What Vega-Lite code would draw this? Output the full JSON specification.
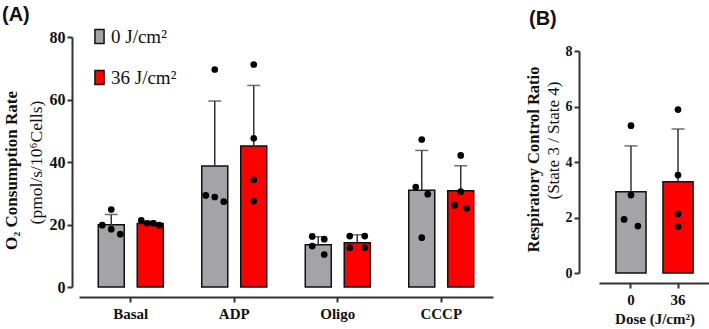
{
  "$schema": "https://vega.github.io/schema/vega-lite/v6.json",
  "padding": {"left": 2, "top": 5, "right": 1, "bottom": 1},
  "bounds": "flush",
  "center": true,
  "spacing": 106,
  "resolve": {"scale": {"color": "independent"}},
  "config": {
    "view": {"stroke": null},
    "axis": {
      "domainColor": "#333333", "domainWidth": 2,
      "tickColor": "#333333", "tickWidth": 2, "tickSize": 5,
      "labelFont": "Liberation Serif", "labelFontWeight": "bold", "labelColor": "#111111",
      "titleFont": "Liberation Serif", "titleColor": "#111111", "grid": false
    },
    "title": {"font": "Liberation Sans", "fontWeight": "bold", "fontSize": 20, "color": "#111111"}
  },
  "datasets": {
    "aSummary": [
      {"cat": "Basal", "dose": "0", "mean": 19.9, "upper": 23.2},
      {"cat": "Basal", "dose": "36", "mean": 20.3, "upper": 21.0},
      {"cat": "ADP", "dose": "0", "mean": 38.7, "upper": 59.5},
      {"cat": "ADP", "dose": "36", "mean": 45.1, "upper": 64.5},
      {"cat": "Oligo", "dose": "0", "mean": 13.5, "upper": 16.1},
      {"cat": "Oligo", "dose": "36", "mean": 14.2, "upper": 16.7},
      {"cat": "CCCP", "dose": "0", "mean": 31.0, "upper": 43.7},
      {"cat": "CCCP", "dose": "36", "mean": 30.8, "upper": 38.8}
    ],
    "aPoints": [
      {"cat": "Basal", "dose": "0", "value": 24.8, "j": 0},
      {"cat": "Basal", "dose": "0", "value": 19.8, "j": -3},
      {"cat": "Basal", "dose": "0", "value": 18.5, "j": 0},
      {"cat": "Basal", "dose": "0", "value": 16.9, "j": 3},
      {"cat": "Basal", "dose": "36", "value": 21.3, "j": -3},
      {"cat": "Basal", "dose": "36", "value": 20.4, "j": -1},
      {"cat": "Basal", "dose": "36", "value": 20.4, "j": 1},
      {"cat": "Basal", "dose": "36", "value": 19.8, "j": 3},
      {"cat": "ADP", "dose": "0", "value": 69.6, "j": 0},
      {"cat": "ADP", "dose": "0", "value": 29.3, "j": -3},
      {"cat": "ADP", "dose": "0", "value": 28.8, "j": 0},
      {"cat": "ADP", "dose": "0", "value": 27.3, "j": 3},
      {"cat": "ADP", "dose": "36", "value": 71.2, "j": 0},
      {"cat": "ADP", "dose": "36", "value": 47.6, "j": 0},
      {"cat": "ADP", "dose": "36", "value": 34.3, "j": 0},
      {"cat": "ADP", "dose": "36", "value": 27.5, "j": 0},
      {"cat": "Oligo", "dose": "0", "value": 16.2, "j": -2},
      {"cat": "Oligo", "dose": "0", "value": 15.3, "j": 2},
      {"cat": "Oligo", "dose": "0", "value": 13.1, "j": -2},
      {"cat": "Oligo", "dose": "0", "value": 10.4, "j": 2},
      {"cat": "Oligo", "dose": "36", "value": 16.3, "j": -2.5},
      {"cat": "Oligo", "dose": "36", "value": 16.3, "j": 2.5},
      {"cat": "Oligo", "dose": "36", "value": 12.6, "j": -2.5},
      {"cat": "Oligo", "dose": "36", "value": 12.6, "j": 2.5},
      {"cat": "CCCP", "dose": "0", "value": 47.2, "j": 0},
      {"cat": "CCCP", "dose": "0", "value": 32.0, "j": -2},
      {"cat": "CCCP", "dose": "0", "value": 29.7, "j": 2},
      {"cat": "CCCP", "dose": "0", "value": 15.8, "j": 0},
      {"cat": "CCCP", "dose": "36", "value": 42.1, "j": 0},
      {"cat": "CCCP", "dose": "36", "value": 30.5, "j": 0},
      {"cat": "CCCP", "dose": "36", "value": 26.2, "j": -2},
      {"cat": "CCCP", "dose": "36", "value": 25.2, "j": 2}
    ],
    "bSummary": [
      {"dose": "0", "mean": 2.93, "upper": 4.58},
      {"dose": "36", "mean": 3.29, "upper": 5.19}
    ],
    "bPoints": [
      {"dose": "0", "value": 5.31, "j": 0},
      {"dose": "0", "value": 2.81, "j": 0},
      {"dose": "0", "value": 1.93, "j": -2.3},
      {"dose": "0", "value": 1.69, "j": 2.3},
      {"dose": "36", "value": 5.89, "j": 0},
      {"dose": "36", "value": 3.53, "j": 0},
      {"dose": "36", "value": 2.13, "j": 0},
      {"dose": "36", "value": 1.67, "j": 0}
    ]
  },
  "hconcat": [
    {
      "width": 414,
      "height": 250,
      "title": {"text": "(A)", "anchor": "start", "frame": "group", "dx": -77, "offset": 2},
      "resolve": {"axis": {"y": "independent"}, "scale": {"xOffset": "independent"}},
      "encoding": {
        "x": {
          "field": "cat", "type": "nominal", "sort": ["Basal", "ADP", "Oligo", "CCCP"],
          "scale": {"paddingInner": 0, "paddingOuter": 0},
          "axis": {"title": null, "labelAngle": 0, "labelFontSize": 15, "labelPadding": 4, "offset": 10}
        },
        "xOffset": {
          "field": "dose", "type": "nominal", "sort": ["0", "36"],
          "scale": {"paddingInner": 0.333, "paddingOuter": 0.494}
        }
      },
      "layer": [
        {
          "data": {"name": "aSummary"},
          "mark": {"type": "bar", "stroke": "#111111", "strokeWidth": 1.5},
          "encoding": {
            "y": {
              "field": "mean", "type": "quantitative",
              "scale": {"domain": [0, 80], "nice": false},
              "axis": {
                "orient": "left",
                "values": [0, 20, 40, 60, 80], "labelFontSize": 16, "offset": 7,
                "title": "(pmol/s/10⁶Cells)", "titleFontWeight": "normal", "titleFontSize": 17.5, "titlePadding": 4
              }
            },
            "color": {
              "field": "dose", "type": "nominal",
              "scale": {"domain": ["0", "36"], "range": ["#a3a3a8", "#ff0000"]},
              "legend": {
                "orient": "none", "legendX": 11, "legendY": -10, "title": null,
                "symbolType": "M-0.65,-1H0.65V1H-0.65Z", "symbolSize": 196,
                "symbolStrokeColor": "#111111", "symbolStrokeWidth": 1.5, "symbolOpacity": 1,
                "labelFont": "Liberation Serif", "labelFontSize": 19, "labelColor": "#111111",
                "labelOffset": 2, "rowPadding": 20, "padding": 0,
                "labelExpr": "datum.label + ' J/cm²'"
              }
            }
          }
        },
        {
          "data": {"name": "aSummary"},
          "mark": {"type": "rule", "color": "#333333", "strokeWidth": 1.5},
          "encoding": {
            "y": {
              "field": "mean", "type": "quantitative",
              "axis": {
                "orient": "left",
                "domain": false, "ticks": false, "labels": false,
                "title": "O₂ Consumption Rate", "titleFontWeight": "bold", "titleFontSize": 17,
                "titlePadding": 59, "titleY": 133
              }
            },
            "y2": {"field": "upper"}
          }
        },
        {
          "data": {"name": "aSummary"},
          "mark": {"type": "tick", "color": "#333333", "thickness": 1.5, "size": 13, "orient": "horizontal"},
          "encoding": {
            "y": {"field": "upper", "type": "quantitative", "axis": null}
          }
        },
        {
          "data": {"name": "aPoints"},
          "transform": [{"filter": "datum.dose == '0'"}],
          "mark": {"type": "circle", "color": "#000000", "size": 45, "opacity": 1},
          "encoding": {
            "xOffset": {"field": "j", "type": "quantitative", "scale": {"domain": [-10.75, 23.75]}},
            "y": {"field": "value", "type": "quantitative", "axis": null}
          }
        },
        {
          "data": {"name": "aPoints"},
          "transform": [{"filter": "datum.dose == '36'"}],
          "mark": {"type": "circle", "color": "#000000", "size": 45, "opacity": 1},
          "encoding": {
            "xOffset": {"field": "j", "type": "quantitative", "scale": {"domain": [-23.75, 10.75]}},
            "y": {"field": "value", "type": "quantitative", "axis": null}
          }
        }
      ]
    },
    {
      "width": 111,
      "height": 222,
      "title": {"text": "(B)", "anchor": "start", "frame": "group", "dx": -70, "offset": 15},
      "resolve": {"axis": {"y": "independent"}},
      "encoding": {
        "x": {
          "field": "dose", "type": "nominal", "sort": ["0", "36"],
          "scale": {"paddingInner": 0.36, "paddingOuter": 0.36},
          "axis": {"title": "Dose (J/cm²)", "titleFontSize": 15, "titlePadding": 4, "labelAngle": 0, "labelFontSize": 15, "labelPadding": 4, "offset": 10}
        }
      },
      "layer": [
        {
          "data": {"name": "bSummary"},
          "mark": {"type": "bar", "stroke": "#111111", "strokeWidth": 1.5},
          "encoding": {
            "y": {
              "field": "mean", "type": "quantitative",
              "scale": {"domain": [0, 8], "nice": false},
              "axis": {
                "orient": "left",
                "values": [0, 2, 4, 6, 8], "labelFontSize": 14, "offset": 20,
                "title": "(State 3 / State 4)", "titleFontWeight": "normal", "titleFontSize": 17,
                "titlePadding": 3, "titleY": 89
              }
            },
            "color": {
              "field": "dose", "type": "nominal",
              "scale": {"domain": ["0", "36"], "range": ["#a3a3a8", "#ff0000"]},
              "legend": null
            }
          }
        },
        {
          "data": {"name": "bSummary"},
          "mark": {"type": "rule", "color": "#333333", "strokeWidth": 1.5},
          "encoding": {
            "y": {
              "field": "mean", "type": "quantitative",
              "axis": {
                "orient": "left",
                "domain": false, "ticks": false, "labels": false,
                "title": "Respiratory  Control  Ratio", "titleFontWeight": "bold", "titleFontSize": 16.5,
                "titlePadding": 58, "titleY": 108
              }
            },
            "y2": {"field": "upper"}
          }
        },
        {
          "data": {"name": "bSummary"},
          "mark": {"type": "tick", "color": "#333333", "thickness": 1.5, "size": 13, "orient": "horizontal"},
          "encoding": {
            "y": {"field": "upper", "type": "quantitative", "axis": null}
          }
        },
        {
          "data": {"name": "bPoints"},
          "mark": {"type": "circle", "color": "#000000", "size": 45, "opacity": 1, "xOffset": {"expr": "datum.j * 3"}},
          "encoding": {
            "y": {"field": "value", "type": "quantitative", "axis": null}
          }
        }
      ]
    }
  ]
}
